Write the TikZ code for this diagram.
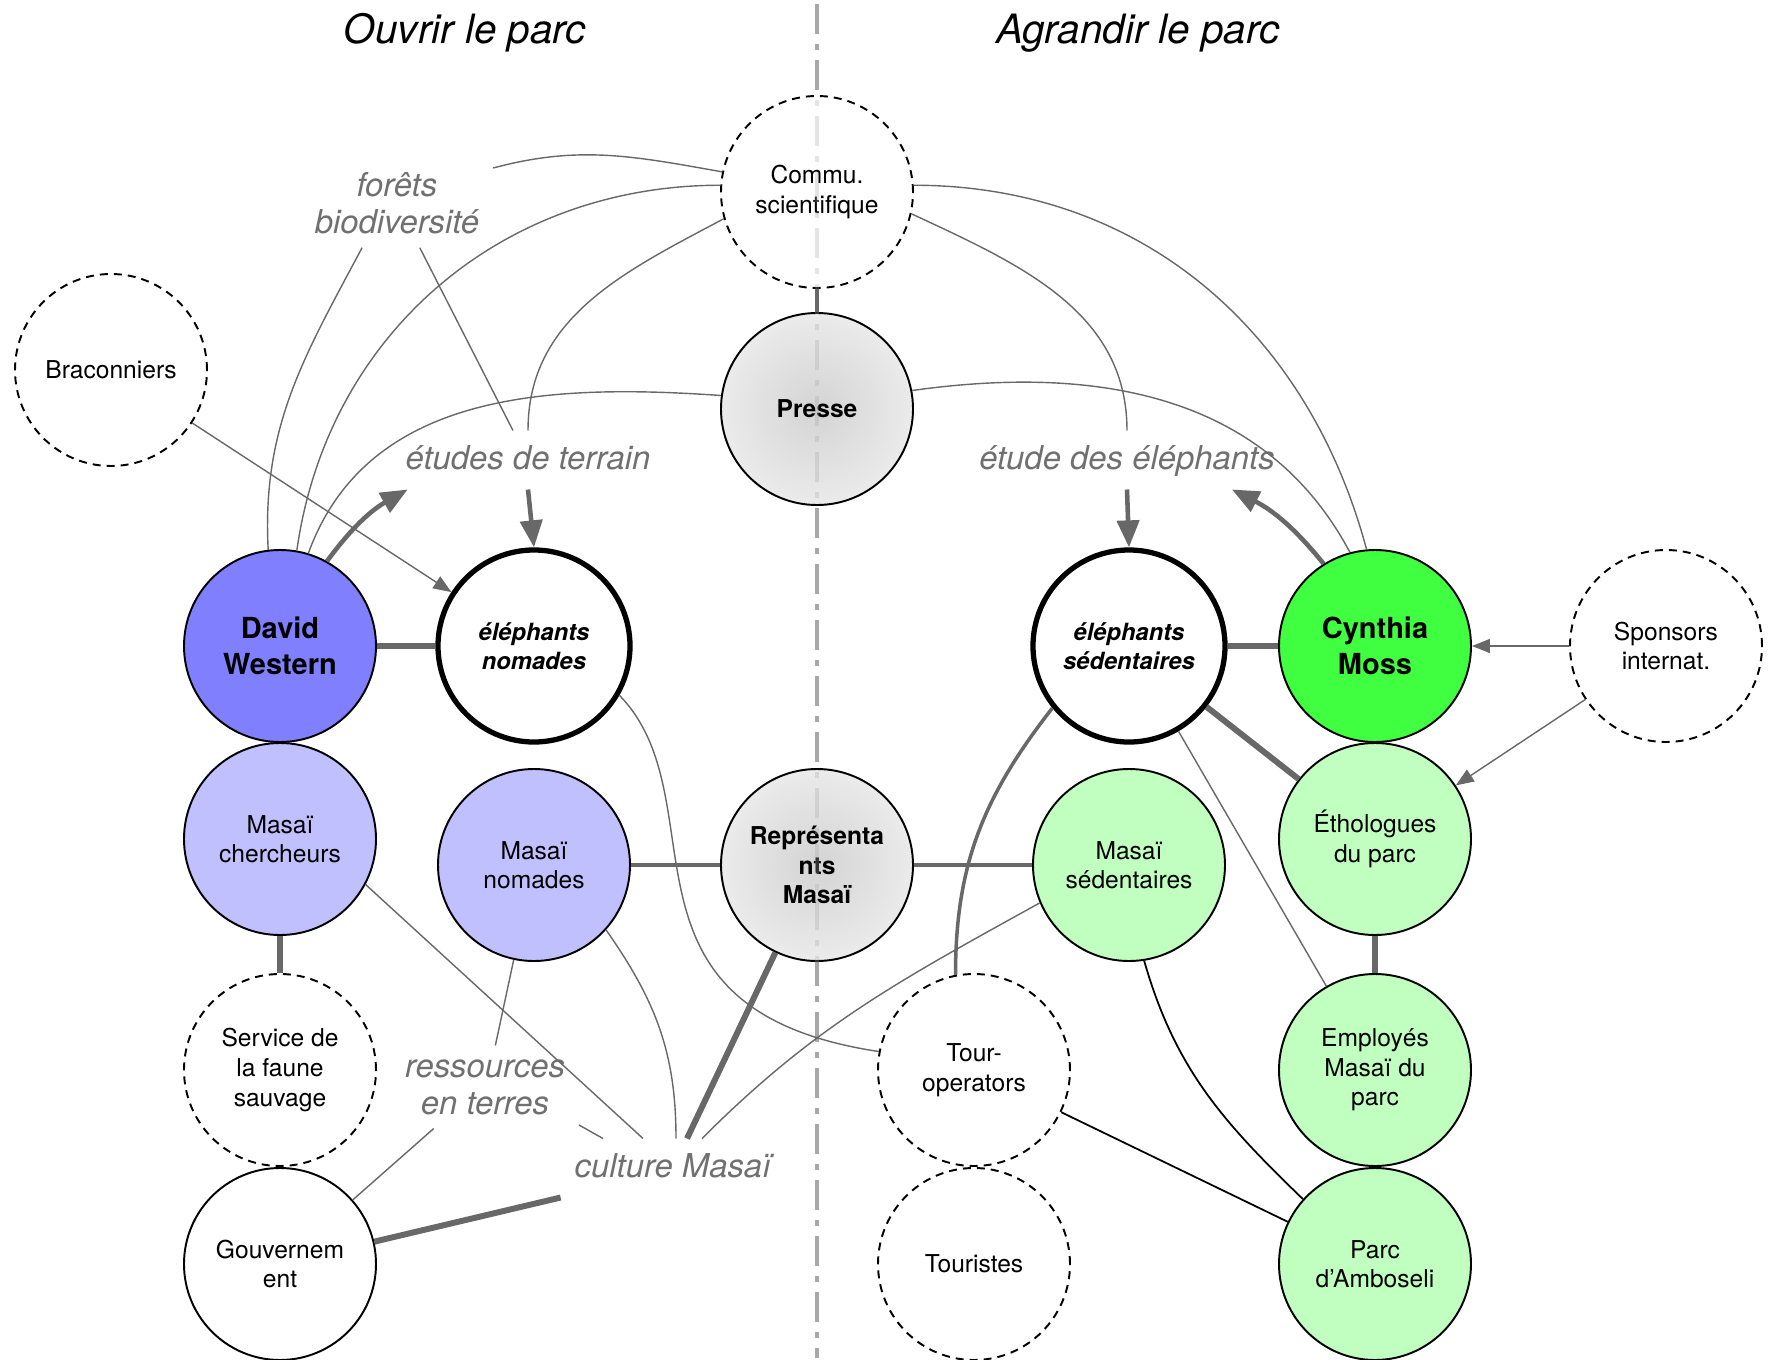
\documentclass[tikz,border=0pt]{standalone}
\usepackage{fontspec}
\setmainfont{TeX Gyre Heros}
\usetikzlibrary{arrows.meta,calc}
\definecolor{dwblue}{RGB}{128,128,255}
\definecolor{dwpale}{RGB}{192,192,255}
\definecolor{cmgreen}{RGB}{64,255,64}
\definecolor{cmpale}{RGB}{192,255,192}
\definecolor{lnk}{RGB}{104,104,104}
\definecolor{tpc}{RGB}{112,112,112}
\definecolor{divgray}{RGB}{168,168,168}
\pgfdeclareradialshading{stipple}{\pgfpoint{0bp}{0bp}}{color(0bp)=(black!17); color(22bp)=(black!9); color(35bp)=(black!3); color(50bp)=(black!3)}

\begin{document}
\begin{tikzpicture}[x=0.2mm,y=0.2mm,
  actor/.style={circle,draw=black,line width=1.1pt,minimum size=38.4mm,inner sep=0pt,align=center,font=\fontsize{14pt}{16.8pt}\selectfont},
  ext/.style={actor,fill=white,dash pattern=on 1.6mm off 1.2mm},
  lead/.style={actor,font=\bfseries\fontsize{16.5pt}{20.5pt}\selectfont},
  herd/.style={actor,fill=white,line width=3pt,font=\bfseries\itshape\fontsize{13.5pt}{16.2pt}\selectfont},
  media/.style={actor,shading=stipple,font=\bfseries\fontsize{14pt}{16.8pt}\selectfont},
  topic/.style={text=tpc,inner sep=0pt,outer sep=2.8mm,align=center,font=\itshape\fontsize{18.7pt}{21pt}\selectfont},
  oneline/.style={text height=4.9mm,text depth=1.3mm},
  headline/.style={font=\itshape\fontsize{23pt}{27pt}\selectfont},
  divide/.style={divgray,line width=2pt,dash pattern=on 6mm off 2mm on 1.2mm off 2mm},
  link/.style={draw=lnk,line width=0.8pt},
  midlink/.style={draw=lnk,line width=2pt},
  bond/.style={draw=lnk,line width=3.4pt},
  tie/.style={draw=black,line width=1pt},
  hint/.style={link,-{Triangle[length=3.6mm,width=2.8mm]}},
  push/.style={draw=lnk,line width=2.6pt,-{Triangle[length=5.4mm,width=4.4mm]}}]
  \useasboundingbox (0,0) rectangle (1770,-1360);
  \coordinate (divtop) at (817,-4);
  \coordinate (divbot) at (817,-1358);
  \draw[divide] (divtop) -- (divbot);

  \node[headline] (ttl) at (465,-33) {Ouvrir le parc};
  \node[headline] (ttr) at (1138,-33) {Agrandir le parc};

  \node[lead,fill=dwblue] (DW) at (280,-646) {David\\Western};
  \node[herd] (EN) at (534,-646) {éléphants\\nomades};
  \node[actor,fill=dwpale] (MC) at (280,-839) {Masaï\\chercheurs};
  \node[actor,fill=dwpale] (MN) at (534,-865) {Masaï\\nomades};
  \node[ext] (SF) at (280,-1070) {Service de\\la faune\\sauvage};
  \node[actor,fill=white] (GV) at (280,-1264) {Gouvernem\\ent};
  \node[ext] (BR) at (111,-370) {Braconniers};
  \node[ext] (CS) at (817,-192) {Commu.\\scientifique};
  \node[media] (PR) at (817,-409) {Presse};
  \node[media] (RM) at (817,-865) {Représenta\\nts\\Masaï};
  \node[herd] (ES) at (1129,-646) {éléphants\\sédentaires};
  \node[lead,fill=cmgreen] (CM) at (1375,-646) {Cynthia\\Moss};
  \node[ext] (SP) at (1666,-646) {Sponsors\\internat.};
  \node[actor,fill=cmpale] (ET) at (1375,-839) {Éthologues\\du parc};
  \node[actor,fill=cmpale] (MS) at (1129,-865) {Masaï\\sédentaires};
  \node[ext] (TO) at (974,-1070) {Tour-\\operators};
  \node[ext] (TR) at (974,-1264) {Touristes};
  \node[actor,fill=cmpale] (EM) at (1375,-1070) {Employés\\Masaï du\\parc};
  \node[actor,fill=cmpale] (PA) at (1375,-1264) {Parc\\d’Amboseli};
  \draw[divide,draw opacity=0.3] (divtop) -- (divbot);

  \node[topic] (fo) at (397,-203) {forêts\\biodiversité};
  \node[topic,oneline] (et) at (528,-460) {études de terrain};
  \node[topic,oneline] (ede) at (1127,-460) {étude des éléphants};
  \node[topic] (rt) at (485,-1087) {ressources\\en terres};
  \node[topic,oneline] (cult) at (673,-1168) {culture Masaï};

  \draw[link] (CS.168) to[out=170,in=15] (fo.20);
  \draw[link] (fo.232) to[out=-118,in=93] (DW.97);
  \draw[link] (CS.176) to[out=180,in=82] (DW.80);
  \draw[link] (CS.196) to[out=208,in=90] (et.north);
  \draw[link] (PR.172) to[out=176,in=70] (DW.73);
  \draw[link] (fo) -- (et);
  \draw[hint] (BR) -- (EN);
  \draw[push] (DW.61) to[bend left=12] ($(et.south west)+(16,0)$);
  \draw[push] (et.south) -- (EN.north);
  \draw[bond] (DW) -- (EN);

  \draw[link] (CS.4) to[out=0,in=105] (CM.95);
  \draw[link] (CS.-13) to[out=-25,in=90] (ede.north);
  \draw[link] (PR.11) to[out=8,in=118] (CM.105);
  \draw[push] (CM.122) to[bend right=12] ($(ede.south)+(105,0)$);
  \draw[push] (ede.south) -- (ES.north);
  \draw[bond] (ES) -- (CM);
  \draw[hint] (SP) -- (CM);
  \draw[hint] (SP) -- (ET);
  \draw[bond] (ES) -- (ET);
  \draw[link] (ES) -- (EM);
  \draw[bond] (ET) -- (EM);
  \draw[midlink] (ES.219) to[out=232,in=90] (TO.101);
  \draw[tie] (MS.-81) to[out=-74,in=136] (PA.138);
  \draw[tie] (TO) -- (PA);
  \draw[link] (MS.203) to[out=209,in=45] ($(cult.north)+(29,0)$);

  \draw[midlink] (MN) -- (RM);
  \draw[midlink] (RM) -- (MS);
  \draw[midlink] (CS) -- (PR);
  \draw[link] (EN.-30) .. controls +(103,-106) and +(-280,42) .. (TO.169);
  \draw[link] (MN.-42) to[out=-55,in=90] ($(cult.north)+(3,0)$);
  \draw[bond] (RM) -- ($(cult.north)+(14,0)$);
  \draw[link] (MC.-28) -- ($(cult.north)+(-30,0)$);
  \draw[link] (rt.76) -- (MN);
  \draw[link] (rt.-22) -- ($(cult.north)+(-70,0)$);
  \draw[link] (rt.219) -- (GV);
  \draw[bond] (cult.south west) -- (GV);
  \draw[bond] (MC) -- (SF);
\end{tikzpicture}
\end{document}
